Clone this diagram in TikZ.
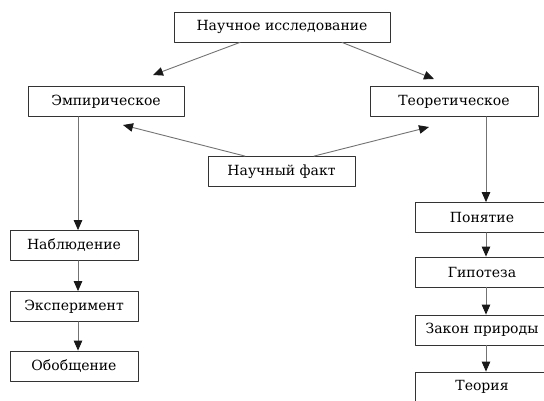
\documentclass[tikz,border=0pt]{standalone}
\usepackage{fontspec}
\setmainfont{DejaVu Serif}
\usepackage{tikz}
\usetikzlibrary{arrows.meta}
\tikzset{>={Triangle[length=10pt,width=8.5pt,color=black!90]}}
\tikzset{
  box/.style={draw=black!80,line width=0.8pt,fill=white,inner sep=0pt,
    minimum height=30pt,font=\fontsize{14}{17}\selectfont},
  link/.style={->,draw=black!55,line width=0.9pt}
}

\begin{document}
\begin{tikzpicture}[line cap=round,line join=round,x=1pt,y=-1pt]
			\useasboundingbox[fill=white] (0,0) rectangle (544,401);
			% top level
			\node[box,minimum width=216pt] (research) at (282,27) {Научное исследование};
			\node[box,minimum width=156pt] (empir) at (106,101.5) {Эмпирическое};
			\node[box,minimum width=168pt] (theor) at (454,101.5) {Теоретическое};
			\node[box,minimum width=147pt] (fact) at (281.5,171.5) {Научный факт};
			% left column
			\node[box,minimum width=128pt] (observ) at (74,245.5) {Наблюдение};
			\node[box,minimum width=128pt] (exper) at (74,306.5) {Эксперимент};
			\node[box,minimum width=128pt] (general) at (74,366) {Обобщение};
			% right column
			\node[box,minimum width=134pt] (concept) at (482,217.5) {Понятие};
			\node[box,minimum width=134pt] (hypoth) at (482,272) {Гипотеза};
			\node[box,minimum width=134pt] (law) at (482,330) {Закон природы};
			\node[box,minimum width=134pt] (theory) at (482,387) {Теория};
			% free ends
			\coordinate (empTip) at (153,75);
			\coordinate (theorTip) at (434,79);
			\coordinate (empFact) at (123,125);
			\coordinate (theorFact) at (429,127);
			% connectors
			\draw[link] ([xshift=-42pt]research.south) -- (empTip);
			\draw[link] ([xshift=60pt]research.south) -- (theorTip);
			\draw[link] ([xshift=-36.5pt]fact.north) -- (empFact);
			\draw[link] ([xshift=32.5pt]fact.north) -- (theorFact);
			\draw[link] (empir.south -| 78,0) -- (observ.north -| 78,0);
			\draw[link] (observ.south -| 78,0) -- (exper.north -| 78,0);
			\draw[link] (exper.south -| 78,0) -- (general.north -| 78,0);
			\draw[link] (theor.south -| 486,0) -- (concept.north -| 486,0);
			\draw[link] (concept.south -| 486,0) -- (hypoth.north -| 486,0);
			\draw[link] (hypoth.south -| 486,0) -- (law.north -| 486,0);
			\draw[link] (law.south -| 486,0) -- (theory.north -| 486,0);
		\end{tikzpicture}
\end{document}
